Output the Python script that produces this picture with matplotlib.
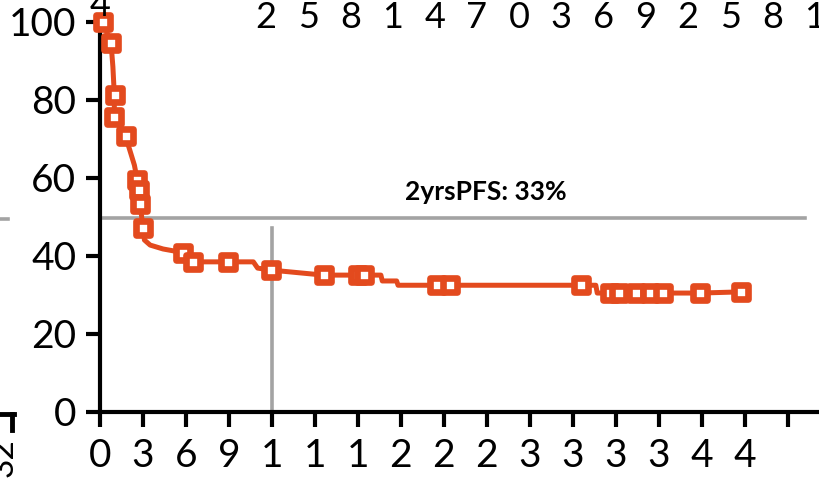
import matplotlib
matplotlib.use("Agg")
import matplotlib.pyplot as plt
from matplotlib.markers import MarkerStyle
from matplotlib.lines import Line2D

plt.rcParams['font.family'] = ['Lato', 'DejaVu Sans']

# ---- data ----
# curve (months, survival %)
line_t = [0.0, 0.2, 0.77, 0.9, 1.0, 1.0, 1.8, 2.4, 2.6, 2.7, 2.8, 3.0, 3.1, 3.5, 4.4, 5.6, 5.8,
          6.5, 8.9, 10.7, 11.0, 11.9, 15.6, 18.0, 18.4, 19.6, 19.7, 20.7, 20.8, 23.5, 24.4,
          33.6, 34.6, 34.7, 35.6, 36.2, 37.4, 38.4, 39.3, 41.9, 44.7]
line_s = [100.0, 100.0, 94.6, 88.5, 81.3, 75.6, 70.5, 63.3, 59.5, 56.9, 53.3, 47.2, 44.1, 42.8, 41.8, 41.0, 40.8,
          38.5, 38.5, 38.5, 36.9, 36.4, 35.1, 35.1, 35.1, 35.1, 33.6, 33.6, 32.5, 32.5, 32.5,
          32.5, 32.5, 30.5, 30.5, 30.5, 30.5, 30.5, 30.5, 30.5, 30.8]
# censor markers
mark_t = [0.2, 0.77, 1.05, 1.0, 1.8, 2.6, 2.7, 2.8, 3.0, 5.8, 6.5, 8.9, 11.9, 15.6, 18.0, 18.4,
          23.5, 24.4, 33.6, 35.6, 36.2, 37.4, 38.4, 39.3, 41.9, 44.7]
mark_s = [100.0, 94.6, 81.3, 75.6, 70.8, 59.5, 56.9, 53.3, 47.2, 40.8, 38.5, 38.5, 36.4, 35.1, 35.1, 35.1,
          32.5, 32.5, 32.5, 30.5, 30.5, 30.5, 30.5, 30.5, 30.5, 30.8]

x_ticks = list(range(0, 49, 3))
x_tick_labels = ["0", "3", "6", "9", "1", "1", "1", "2", "2", "2", "3", "3", "3", "3", "4", "4", ""]
y_ticks = [0, 20, 40, 60, 80, 100]
y_tick_labels = ["0", "20", "40", "60", "80", "100"]
top_labels = ["2", "5", "8", "1", "4", "7", "0", "3", "6", "9", "2", "5", "8", "1"]
median_level = 49.7
landmark_t = 12
landmark_top = 47.2
annotation = "2yrsPFS: 33%"

RED = "#E34A1E"
GRAY = "#A3A3A3"
FS = 28

W, H = 820, 483
fig = plt.figure(figsize=(W / 100, H / 100), dpi=100)
ax = fig.add_axes([100 / W, (H - 412) / H, 720 / W, 390 / H])
ax.set_xlim(0, 720 / 14.33)
ax.set_ylim(0, 100)

# reference lines
ax.axhline(median_level, xmin=0, xmax=(805 - 100) / 720, color=GRAY, lw=2.6, zorder=1)
ax.plot([landmark_t, landmark_t], [0, landmark_top], color=GRAY, lw=2.6, zorder=1)

# curve
ax.plot(line_t, line_s, color=RED, lw=3.6, zorder=3, clip_on=False, solid_joinstyle='round')
ms = MarkerStyle('s', joinstyle='round')
ax.plot(mark_t, mark_s, linestyle='none', marker=ms, markersize=9.5, mew=4.8,
        mec=RED, mfc='white', zorder=4, clip_on=False)

ax.text(26.9, 56.3, annotation, ha='center', va='center', fontsize=19, fontweight='bold',
        color='black')

for s in ['top', 'right']:
    ax.spines[s].set_visible(False)
for s in ['left', 'bottom']:
    ax.spines[s].set_linewidth(3.0)
    ax.spines[s].set_color('black')

ax.set_xticks(x_ticks)
ax.set_xticklabels(x_tick_labels)
ax.set_yticks(y_ticks)
ax.set_yticklabels(y_tick_labels)
ax.tick_params(axis='x', direction='out', length=11, width=3, labelsize=FS, pad=8)
ax.tick_params(axis='y', direction='out', length=10, width=3, labelsize=FS, pad=7)

# cropped neighbouring elements
for i, lab in enumerate(top_labels):
    fig.text((266 + 42.2 * i) / W, 1 - 18 / H, lab, ha='center', va='center', fontsize=26)
fig.text(100 / W, 1 - 6 / H, "4", ha='center', va='center', fontsize=26)
fig.text(4 / W, 1 - 458 / H, "32", ha='center', va='center', fontsize=24, rotation=90)
fig.add_artist(Line2D([0, 14 / W], [1 - 414 / H, 1 - 414 / H], color='black', lw=3.5))
fig.add_artist(Line2D([12 / W, 12 / W], [1 - 414 / H, 1 - 430 / H], color='black', lw=3.5))
fig.add_artist(Line2D([0, 8 / W], [1 - 219 / H, 1 - 219 / H], color=GRAY, lw=2.6))

fig.savefig("out.png", dpi=100)
